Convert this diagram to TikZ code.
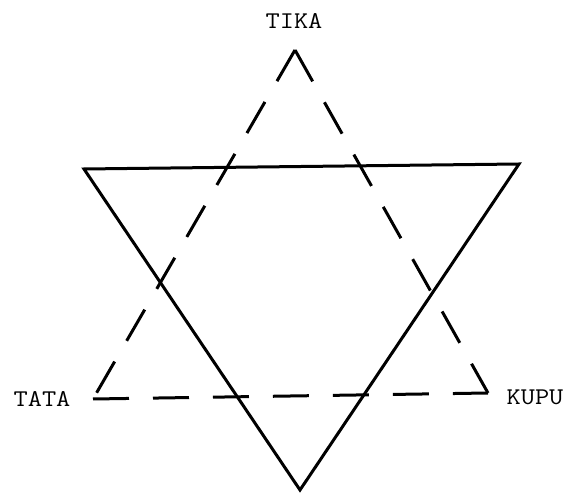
\documentclass[tikz,border=0pt]{standalone}
\begin{document}
\begin{tikzpicture}[x=1pt,y=-1pt,
  lbl/.style={font=\ttfamily\fontsize{24}{26}\selectfont, inner sep=0pt, xscale=1.15},
  solidline/.style={line width=3pt, line join=miter},
  dashline/.style={line width=3pt, dash pattern=on 36pt off 24pt, line join=miter}]
\useasboundingbox (0,0) rectangle (566,494);
% solid inverted triangle
\coordinate (stl) at (84,169);
\coordinate (str) at (519,164);
\coordinate (sb) at (300,490);
\draw[solidline] (stl) -- (str) -- (sb) -- cycle;
% dashed triangle
\coordinate (dt) at (295,50);
\coordinate (dl) at (93,399);
\coordinate (dr) at (488,393);
\draw[dashline] (dt) -- (dr);
\draw[dashline] (dt) -- (dl);
\draw[dashline] (dl) -- (dr);
% labels
\node[lbl] (tika) at (294,21) {TIKA};
\node[lbl] (tata) at (42,399) {TATA};
\node[lbl] (kupu) at (535,397) {KUPU};
\end{tikzpicture}
\end{document}
